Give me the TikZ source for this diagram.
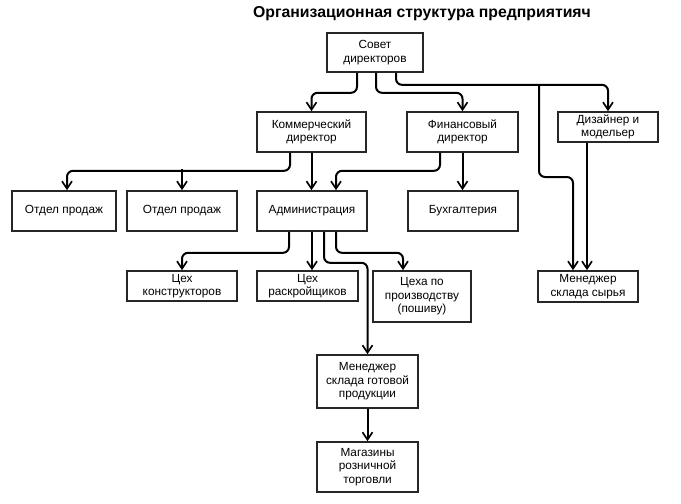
\documentclass[tikz,border=0pt]{standalone}
\usepackage{fontspec}
\setmainfont{Liberation Sans}
\usetikzlibrary{arrows.meta,calc}
\begin{document}
\begin{tikzpicture}[x=1pt,y=-1pt,
  box/.style={draw=black!85,line width=1.6pt,fill=white,align=center,inner sep=1pt,
    font=\fontsize{11.8}{13.6}\selectfont},
  conn/.style={draw=black,line width=2pt,rounded corners=6pt,
    -{Straight Barb[length=7.5pt,width=10pt,line width=1.7pt]}}]
\useasboundingbox (0,0) rectangle (681,504);
\node[font=\fontsize{15.8}{18}\selectfont\bfseries] (title) at (422,14) {Организационная структура предприятияч};
\node[box,minimum width=96pt,minimum height=39pt] (sovet) at (375,52.5) {Совет\\директоров};
\node[box,minimum width=109pt,minimum height=40pt] (kom) at (311.5,132) {Коммерческий\\директор};
\node[box,minimum width=111pt,minimum height=40pt] (fin) at (462.5,132) {Финансовый\\директор};
\node[box,minimum width=100pt,minimum height=30pt] (diz) at (608,127) {Дизайнер и\\модельер};
\node[box,minimum width=104pt,minimum height=40pt] (otd1) at (64,211) {Отдел продаж};
\node[box,minimum width=110pt,minimum height=40pt] (otd2) at (182,211) {Отдел продаж};
\node[box,minimum width=110pt,minimum height=40pt] (adm) at (312,211) {Администрация};
\node[box,minimum width=110pt,minimum height=40pt] (buh) at (463,211) {Бухгалтерия};
\node[box,minimum width=110pt,minimum height=30pt] (ckon) at (182,286) {Цех\\конструкторов};
\node[box,minimum width=101pt,minimum height=30pt] (crask) at (307.5,286) {Цех\\раскройщиков};
\node[box,minimum width=98pt,minimum height=51pt] (cproizv) at (422,296.5) {Цеха по\\производству\\(пошиву)};
\node[box,minimum width=100pt,minimum height=31pt] (msyr) at (588,286.5) {Менеджер\\склада сырья};
\node[box,minimum width=101pt,minimum height=53pt] (mgot) at (367.5,381.5) {Менеджер\\склада готовой\\продукции};
\node[box,minimum width=101pt,minimum height=50pt] (mag) at (367.5,467) {Магазины\\розничной\\торговли};
% from board
\draw[conn] ([xshift=-18pt]sovet.south) -- ++(0,20) -| (kom.north);
\draw[conn] ([xshift=1pt]sovet.south) -- ++(0,20) -| (fin.north);
\draw[conn] ([xshift=21pt]sovet.south) -- ++(0,12) -| (diz.north);
\coordinate (j1) at (539,84);
\draw[conn] (j1) -- ++(0,93) -| ([xshift=-15pt]msyr.north);
\draw[conn] ([xshift=-21pt]diz.south) -- ([xshift=-21pt]diz.south |- msyr.north);
% from commercial
\draw[conn] ([xshift=-21.5pt]kom.south) -- ++(0,18) -| ([xshift=3pt]otd1.north);
\coordinate (j2) at ($(otd2.north)+(0,-21)$);
\draw[conn] (j2) -- (otd2.north);
\draw[conn] (kom.south) -- (kom.south |- adm.north);
% from finance
\draw[conn] ([xshift=-22.5pt]fin.south) -- ++(0,18) -| ([xshift=24pt]adm.north);
\draw[conn] (fin.south) -- (fin.south |- buh.north);
% from administration
\draw[conn] ([xshift=-23pt]adm.south) -- ++(0,21) -| (ckon.north);
\draw[conn] (adm.south) -- (adm.south |- crask.north);
\draw[conn] ([xshift=12pt]adm.south) -- ++(0,31) -| (mgot.north);
\draw[conn] ([xshift=24pt]adm.south) -- ++(0,21) -| ([xshift=-19pt]cproizv.north);
\draw[conn] (mgot.south) -- (mag.north);
\end{tikzpicture}
\end{document}
